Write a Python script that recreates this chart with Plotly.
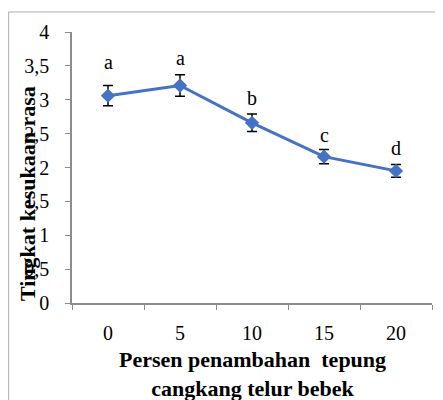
import plotly.graph_objects as go

categories = ["0", "5", "10", "15", "20"]
values = [3.06, 3.21, 2.66, 2.16, 1.95]
errors = [0.15, 0.16, 0.13, 0.105, 0.095]
letters = ["a", "a", "b", "c", "d"]
letter_y = [3.56, 3.62, 3.03, 2.48, 2.29]
y_ticks = [0, 0.5, 1, 1.5, 2, 2.5, 3, 3.5, 4]
y_tick_labels = ["0", "0,5", "1", "1,5", "2", "2,5", "3", "3,5", "4"]

FONT = "Liberation Serif"
AXIS = "#8c8c8c"

fig = go.Figure()
fig.add_trace(go.Scatter(
    x=categories, y=values, mode="lines+markers",
    line=dict(color="#4472C4", width=3),
    marker=dict(symbol="diamond", size=11, color="#4472C4"),
    error_y=dict(type="data", array=errors, visible=True, color="black", thickness=1.5, width=5),
    showlegend=False,
))

for i, (ly, t) in enumerate(zip(letter_y, letters)):
    fig.add_annotation(x=i, y=ly, text=t, showarrow=False, yanchor="middle",
                       font=dict(family=FONT, size=20, color="black"))

fig.add_annotation(x=0.5, y=-0.262, xref="paper", yref="paper", showarrow=False,
                   text="<b>Persen penambahan  tepung</b><br><b>cangkang telur bebek</b>",
                   font=dict(family=FONT, size=22, color="black"), yanchor="middle")
fig.add_annotation(x=-0.125, y=0.402, xref="paper", yref="paper", showarrow=False, textangle=-90,
                   text="<b>Tingkat kesukaan rasa</b>",
                   font=dict(family=FONT, size=22, color="black"), xanchor="center", yanchor="middle")

fig.add_shape(type="rect", xref="paper", yref="paper", x0=-0.176, x1=1.025, y0=-0.4, y1=1.074,
              line=dict(color="#b0b0b0", width=1))

# page body has an 8px margin, so the figure is 8px smaller and margins are shifted
fig.update_layout(
    width=435, height=392,
    margin=dict(l=64, r=11, t=24, b=97),
    paper_bgcolor="white", plot_bgcolor="white",
    font=dict(family=FONT, color="black"),
    xaxis=dict(type="category", tickson="boundaries", range=[-0.5, 4.5],
               showline=True, linecolor=AXIS, linewidth=1.5, ticks="outside", tickcolor=AXIS,
               ticklen=5, showgrid=False, zeroline=False, ticklabelstandoff=11,
               tickfont=dict(family=FONT, size=20, color="black")),
    yaxis=dict(range=[0, 4], tickvals=y_ticks, ticktext=y_tick_labels,
               showline=True, linecolor=AXIS, linewidth=1.5, ticks="outside", tickcolor=AXIS,
               ticklen=5, showgrid=False, zeroline=False, ticklabelstandoff=12,
               tickfont=dict(family=FONT, size=20, color="black")),
)

fig.write_html("out.html")
